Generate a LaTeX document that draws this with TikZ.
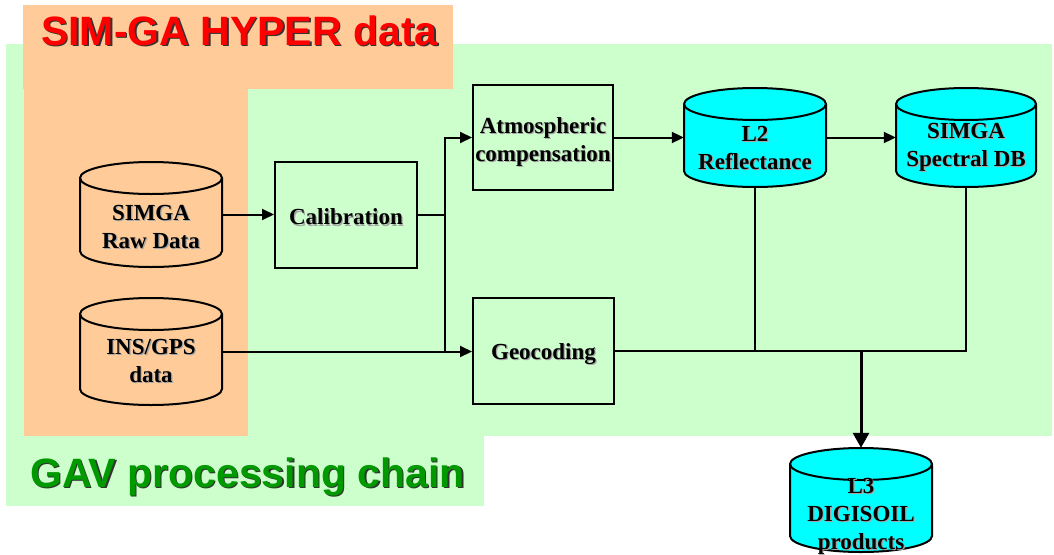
\documentclass[tikz,border=0pt]{standalone}
\usepackage{fontspec}
\setmainfont{Liberation Serif}
\newfontfamily\titlefont{Liberation Sans}
\usetikzlibrary{arrows.meta}
\definecolor{peach}{HTML}{FFCC99}
\definecolor{mint}{HTML}{CCFFCC}
\definecolor{aqua}{HTML}{00FFFF}
\definecolor{titlered}{HTML}{FF0000}
\definecolor{titlegreen}{HTML}{009900}

% #1 name, #2 x, #3 y, #4 extra font settings, #5 text
\newcommand\shadowtext[5]{%
  \node[txt, text=black!35, #4] (#1-shadow) at (#2+1.2,#3-1.2) {#5};
  \node[txt, #4] (#1) at (#2,#3) {#5};
}

% #1 name, #2 cx, #3 cy, #4 w, #5 h, #6 fill, #7 text shift down, #8 text
\newcommand\dbcyl[8]{%
  \pgfmathsetmacro\cylrx{#4/2}%
  \pgfmathsetmacro\cylhh{#5/2}%
  \filldraw[fill=#6, conn] (#2-\cylrx, #3+\cylhh-16) -- (#2-\cylrx, #3-\cylhh+16)
    arc[start angle=180, end angle=360, x radius=\cylrx pt, y radius=16pt]
    -- (#2+\cylrx, #3+\cylhh-16)
    arc[start angle=0, end angle=180, x radius=\cylrx pt, y radius=16pt] -- cycle;
  \draw[conn] (#2-\cylrx, #3+\cylhh-16)
    arc[start angle=180, end angle=360, x radius=\cylrx pt, y radius=16pt];
  \node[minimum width=#4pt, minimum height=#5pt, inner sep=0pt] (#1) at (#2,#3) {};
  \shadowtext{#1-label}{#2}{#3-#7}{}{#8}
}

% #1 name, #2 cx, #3 cy, #4 w, #5 h, #6 text shift down, #7 text
\newcommand\procnode[7]{%
  \node[procbox, minimum width=#4pt, minimum height=#5pt] (#1) at (#2,#3) {};
  \shadowtext{#1-label}{#2}{#3-#6}{}{#7}
}

\begin{document}
\begin{tikzpicture}[x=1pt,y=1pt,
  txt/.style={font=\fontsize{23}{28}\selectfont\bfseries, align=center, inner sep=0pt},
  procbox/.style={draw, line width=2pt},
  conn/.style={line width=2pt},
  arr/.style={conn, -{Triangle[length=12pt,width=11pt]}},
  bigarr/.style={line width=3pt, -{Triangle[length=15pt,width=16pt]}},
  title/.style={font=\titlefont\fontsize{41}{41}\selectfont\bfseries, anchor=base west, inner sep=0pt},
]
\useasboundingbox (0,0) rectangle (1054,-554);

% backgrounds
\fill[mint] (6,-44) rectangle (1052,-436);
\fill[mint] (6,-436) rectangle (484,-506);
\fill[peach] (23,-5) rectangle (453,-89);
\fill[peach] (24,-89) rectangle (248,-436);

% titles
\node[title, text=black!80] (titleAshadow) at (42.5,-46.5) {SIM-GA HYPER data};
\node[title, text=titlered] (titleA) at (41,-45) {SIM-GA HYPER data};
\node[title, text=black!80] (titleBshadow) at (31.5,-488.5) {GAV processing chain};
\node[title, text=titlegreen] (titleB) at (30,-487) {GAV processing chain};

% data stores
\dbcyl{raw}{151}{-214.5}{142}{105}{peach}{12}{SIMGA\\Raw Data}
\dbcyl{ins}{151}{-351.5}{142}{107}{peach}{9}{INS/GPS\\data}
\dbcyl{l2}{755}{-137.5}{142}{99}{aqua}{10}{L2\\Reflectance}
\dbcyl{spec}{966}{-137.5}{140}{99}{aqua}{10}{SIMGA\\Spectral DB}
\dbcyl{l3}{861}{-500}{142}{104}{aqua}{16}{\baselineskip=24pt L3\\DIGISOIL\\products}

% process boxes
\procnode{cal}{346}{-215}{142}{106}{2}{Calibration}
\procnode{atm}{543}{-137.5}{140}{105}{4}{Atmospheric\\compensation}
\procnode{geo}{543.5}{-351}{141}{106}{3}{Geocoding}

% connectors
\coordinate (split) at (445,-215);
\draw[arr] (raw.east) -- (raw.east -| cal.west);
\draw[conn] (cal.east) -- (split);
\draw[arr] (split) |- (atm.west);
\draw[conn] (split) -- (split |- ins.east);
\draw[arr] (ins.east) -- (ins.east -| geo.west);
\draw[arr] (atm.east) -- (atm.east -| l2.west);
\draw[arr] (l2.east) -- (spec.west);
\coordinate (merge) at (l3.north |- geo.east);
\draw[conn] (geo.east) -- (l2.south |- geo.east);
\draw[conn] (l2.south) -- (l2.south |- geo.east) -- (spec.south |- geo.east) -- (spec.south);
\draw[bigarr] (merge) -- (l3.north);
\end{tikzpicture}
\end{document}
